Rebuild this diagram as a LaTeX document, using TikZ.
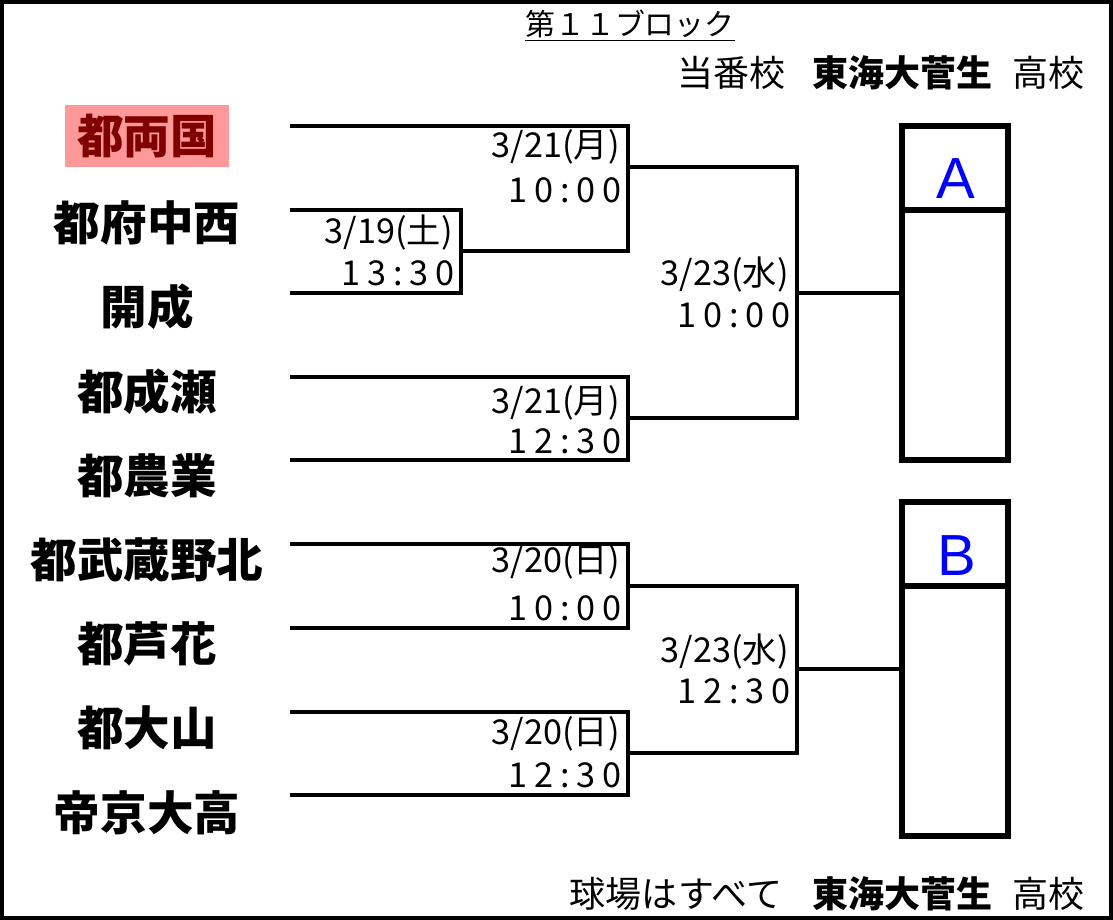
\documentclass[tikz,border=0pt]{standalone}
\usepackage{fontspec}
\setmainfont{Noto Sans CJK JP}
\newfontfamily\latinsans{Liberation Sans}
\newfontfamily\timefont[LetterSpace=20]{Noto Sans CJK JP}
\usetikzlibrary{positioning}
\definecolor{hlred}{HTML}{FF9999}
\definecolor{hltext}{HTML}{800000}
\definecolor{blockblue}{HTML}{0000FF}

\begin{document}
\begin{tikzpicture}[x=0.02cm,y=-0.02cm,
    team/.style={font=\fontsize{26.5pt}{30pt}\selectfont\bfseries,inner sep=0pt},
    bracket/.style={line width=0.09cm},
    datelbl/.style={font=\fontsize{19.5pt}{22pt}\selectfont,inner sep=0pt,anchor=base east},
    timelbl/.style={font=\fontsize{19.5pt}{22pt}\timefont,inner sep=0pt,anchor=base east},
    headtxt/.style={font=\fontsize{20.5pt}{23pt}\selectfont,inner sep=0pt,anchor=base east},
    blockbox/.style={draw,line width=0.13cm,minimum width=2.12cm,minimum height=6.68cm,inner sep=0pt,outer sep=0pt},
    blockname/.style={font=\fontsize{33pt}{36pt}\latinsans,text=blockblue,inner sep=0pt}]
    \useasboundingbox (0,0) rectangle (1113,920);
    % --- marco ---
    \draw[line width=0.08cm] (2,2) rectangle (1111,918);
    % --- cabecera ---
    \node[font=\fontsize{17pt}{20pt}\selectfont,inner sep=0pt,anchor=base] (title) at (630,35) {\underline{第１１ブロック}};
    \node[headtxt] (duty) at (1085,86) {当番校\hspace{0.75em}{\bfseries 東海大菅生}\hspace{0.55em}高校};
    \node[headtxt] (venue) at (1085,907) {球場はすべて\hspace{0.85em}{\bfseries 東海大菅生}\hspace{0.55em}高校};
    % --- equipos ---
    \node[team,fill=hlred,text=hltext,minimum width=3.3cm,minimum height=1.24cm] (t1) at (147,136) {都両国};
    \foreach \i/\y/\s in {2/223/都府中西,3/307/開成,4/392/都成瀬,5/476/都農業,
                          6/560/都武蔵野北,7/644/都芦花,8/728/都大山,9/813/帝京大高}{
      \node[team] (t\i) at (147,\y) {\s};
    }
    \foreach \i/\y in {1/126,2/210,3/293,4/377,5/460,6/544,7/628,8/712,9/795}{
      \coordinate (e\i) at (290,\y);
    }
    % --- puntos de cruce ---
    \coordinate (m1) at (461,251);
    \coordinate (q1) at (628,167);
    \coordinate (q3) at (628,418);
    \coordinate (q5) at (628,586);
    \coordinate (q6) at (628,753);
    \coordinate (s1) at (797,293);
    \coordinate (s2) at (797,669);
    % --- bloques A y B ---
    \node[blockbox] (boxA) at (955,293) {};
    \node[blockbox] (boxB) at (955,669) {};
    \draw[line width=0.13cm] (boxA.north west) ++(0,84) -- ++(106,0);
    \draw[line width=0.13cm] (boxB.north west) ++(0,84) -- ++(106,0);
    \node[blockname] (labA) at (956,179) {A};
    \node[blockname] (labB) at (957,556) {B};
    % --- llaves ---
    \draw[bracket] (e2) -| (m1) |- (e3);
    \draw[bracket] (e1) -| (q1) |- (m1);
    \draw[bracket] (e4) -| (q3) |- (e5);
    \draw[bracket] (q1) -| (s1) |- (q3);
    \draw[bracket] (s1) -- (boxA);
    \draw[bracket] (e6) -| (q5) |- (e7);
    \draw[bracket] (e8) -| (q6) |- (e9);
    \draw[bracket] (q5) -| (s2) |- (q6);
    \draw[bracket] (s2) -- (boxB);
    % --- fechas y horas ---
    \foreach \n/\x/\yd/\yt/\d/\t in {a/620/157/202/{3/21(月)}/{10:00},
                                     b/453/243/285/{3/19(土)}/{13:30},
                                     c/789/285/327/{3/23(水)}/{10:00},
                                     d/620/413/453/{3/21(月)}/{12:30},
                                     e/620/572/620/{3/20(日)}/{10:00},
                                     f/789/662/703/{3/23(水)}/{12:30},
                                     g/620/744/787/{3/20(日)}/{12:30}}{
      \node[datelbl] (d\n) at (\x,\yd) {\d};
      \node[timelbl] (h\n) at (\x+2,\yt) {\t};
    }
\end{tikzpicture}
\end{document}
